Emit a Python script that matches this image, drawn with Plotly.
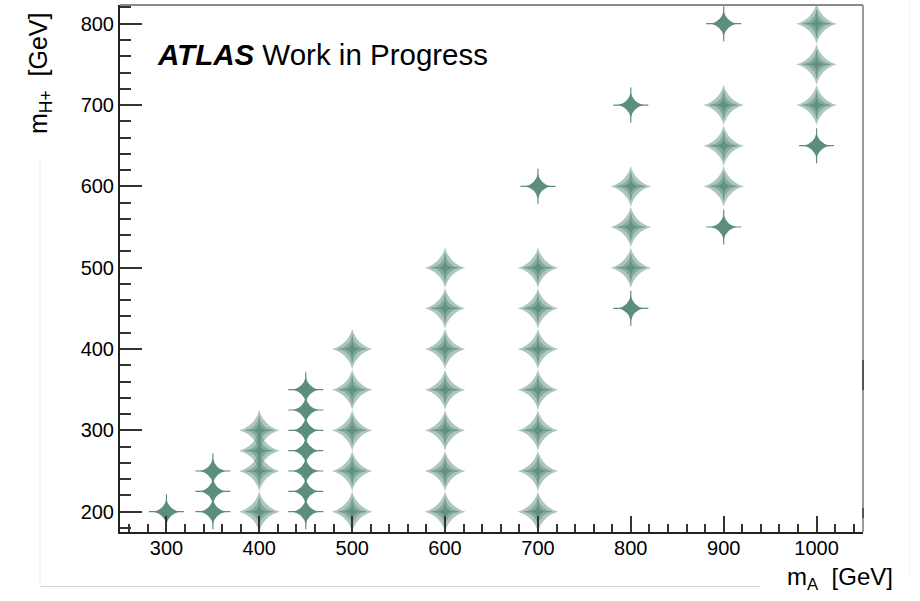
import plotly.graph_objects as go

# ---- data (m_A, m_H+) in GeV ----
thin_mA = [300, 350, 350, 350, 450, 450, 450, 450, 450, 450, 450,
           700, 800, 800, 900, 900, 1000]
thin_mH = [200, 200, 225, 250, 200, 225, 250, 275, 300, 325, 350,
           600, 450, 700, 550, 800, 650]

fat_mA = [400, 400, 400, 400,
          500, 500, 500, 500, 500,
          600, 600, 600, 600, 600, 600, 600,
          700, 700, 700, 700, 700, 700, 700,
          800, 800, 800,
          900, 900, 900,
          1000, 1000, 1000]
fat_mH = [200, 250, 275, 300,
          200, 250, 300, 350, 400,
          200, 250, 300, 350, 400, 450, 500,
          200, 250, 300, 350, 400, 450, 500,
          500, 550, 600,
          600, 650, 700,
          700, 750, 800]

x_ticks = [300, 400, 500, 600, 700, 800, 900, 1000]
y_ticks = [200, 300, 400, 500, 600, 700, 800]

GREEN = "rgb(92,143,123)"

fig = go.Figure()

# fat stars: outer light, middle, dark core
fig.add_trace(go.Scatter(x=fat_mA, y=fat_mH, mode="markers", hoverinfo="skip",
                         marker=dict(symbol="star-diamond", size=29, color=GREEN,
                                     opacity=0.5, line=dict(width=0))))
fig.add_trace(go.Scatter(x=fat_mA, y=fat_mH, mode="markers", hoverinfo="skip",
                         marker=dict(symbol="star-diamond", size=19, color=GREEN,
                                     opacity=0.5, line=dict(width=0))))
fig.add_trace(go.Scatter(x=fat_mA, y=fat_mH, mode="markers", hoverinfo="skip",
                         marker=dict(symbol="cross-thin", size=20, color=GREEN,
                                     opacity=0.55, line=dict(width=1.2, color=GREEN))))
fig.add_trace(go.Scatter(x=fat_mA, y=fat_mH, mode="markers", hoverinfo="skip",
                         marker=dict(symbol="star-diamond", size=10, color=GREEN,
                                     opacity=0.8, line=dict(width=0))))

# thin stars: needle arms + body
fig.add_trace(go.Scatter(x=thin_mA, y=thin_mH, mode="markers", hoverinfo="skip",
                         marker=dict(symbol="cross-thin", size=25, color=GREEN,
                                     line=dict(width=1.2, color=GREEN))))
fig.add_trace(go.Scatter(x=thin_mA, y=thin_mH, mode="markers", hoverinfo="skip",
                         marker=dict(symbol="star-diamond", size=18, color=GREEN,
                                     line=dict(width=0))))

FONT = "Liberation Sans, Arial, Helvetica, sans-serif"

fig.update_layout(
    width=920, height=601,
    margin=dict(l=120, r=57, t=5, b=69),
    paper_bgcolor="white", plot_bgcolor="white",
    showlegend=False,
    font=dict(family=FONT, size=20, color="black"),
    xaxis=dict(range=[250, 1050], tickvals=x_ticks, ticktext=[str(v) for v in x_ticks],
               ticks="inside", ticklen=16, tickwidth=1.5, tickcolor="#333",
               minor=dict(dtick=20, tick0=0, ticks="inside", ticklen=8, tickwidth=1.5, tickcolor="#333"),
               showline=True, linecolor="#222", linewidth=2,
               showgrid=False, zeroline=False, ticklabelstandoff=-3,
               tickfont=dict(family=FONT, size=20, color="black")),
    yaxis=dict(range=[175, 823], tickvals=y_ticks, ticktext=[str(v) for v in y_ticks],
               ticks="inside", ticklen=22, tickwidth=1.5, tickcolor="#333",
               minor=dict(dtick=20, tick0=0, ticks="inside", ticklen=11, tickwidth=1.5, tickcolor="#333"),
               showline=True, linecolor="#222", linewidth=2,
               showgrid=False, zeroline=False,
               tickfont=dict(family=FONT, size=20, color="black")),
    shapes=[
        # frame top / right
        dict(type="line", xref="paper", yref="paper", x0=0, x1=1, y0=1, y1=1,
             line=dict(color="#8a8a8a", width=2)),
        dict(type="line", xref="paper", yref="paper", x0=1, x1=1, y0=0, y1=1,
             line=dict(color="#9a9a9a", width=2)),
        dict(type="line", xref="paper", yref="paper", x0=1, x1=1,
             y0=(532 - 390) / 527, y1=(532 - 360) / 527, line=dict(color="#555", width=2)),
        dict(type="line", xref="paper", yref="paper", x0=1, x1=1,
             y0=(532 - 518) / 527, y1=(532 - 508) / 527, line=dict(color="#555", width=2)),
        # faint screenshot edges
        dict(type="line", xref="paper", yref="paper", x0=(40 - 120) / 743, x1=(760 - 120) / 743,
             y0=(532 - 586.5) / 527, y1=(532 - 586.5) / 527, line=dict(color="#d2d2d2", width=1)),
        dict(type="line", xref="paper", yref="paper", x0=(40 - 120) / 743, x1=(40 - 120) / 743,
             y0=(532 - 586.5) / 527, y1=(532 - 158) / 527, line=dict(color="#ededed", width=1)),
        dict(type="line", xref="paper", yref="paper", x0=(910 - 120) / 743, x1=(910 - 120) / 743,
             y0=(532 - 575) / 527, y1=(532 - 0) / 527, line=dict(color="#f3f3f3", width=1)),
    ],
    annotations=[
        dict(text="<b><i>ATLAS</i></b> Work in Progress", xref="paper", yref="paper",
             x=(155 - 120) / 743, y=(532 - 55) / 527, xanchor="left", yanchor="middle",
             showarrow=False, font=dict(family=FONT, size=29.5, color="black")),
        dict(text="m<sub>H+</sub>  [GeV]", xref="paper", yref="paper",
             x=(40 - 120) / 743, y=(532 - 10) / 527, xanchor="center", yanchor="top",
             textangle=-90, showarrow=False, font=dict(family=FONT, size=25, color="black")),
        dict(text="m<sub>A</sub>  [GeV]", xref="paper", yref="paper",
             x=(895 - 120) / 743, y=(532 - 578) / 527, xanchor="right", yanchor="middle",
             showarrow=False, font=dict(family=FONT, size=24, color="black")),
    ],
)

fig.write_html("out.html", config={"displayModeBar": False},
               post_script="document.body.style.margin='0';")
